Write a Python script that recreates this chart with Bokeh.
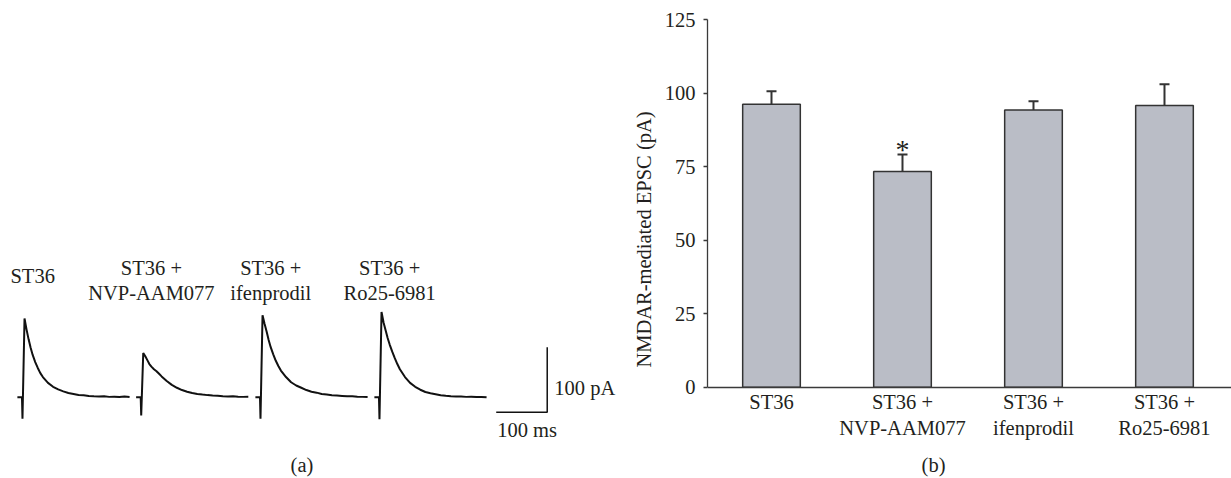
from bokeh.plotting import figure
from bokeh.layouts import row
from bokeh.models import Range1d, FixedTicker, Whisker, TeeHead, ColumnDataSource
from bokeh.core.properties import value
from bokeh.embed import file_html
from bokeh.resources import INLINE

# ---------------- data ----------------
# (b) bar chart
conditions = ["ST36", "ST36 +\nNVP-AAM077", "ST36 +\nifenprodil", "ST36 +\nRo25-6981"]
epsc_mean = [96.3, 73.4, 94.3, 95.8]
epsc_sem = [4.4, 5.8, 3.0, 7.3]
significance = ["", "*", "", ""]
y_ticks = [0, 25, 50, 75, 100, 125]

# (a) example traces (time after stimulus in ms, current in pA, inward shown upward)
trace_time_ms = [-10, -1, 0, 4, 8, 12, 16, 20, 25, 30, 35, 40, 50, 60, 70, 80, 90,
                 100, 110, 120, 130, 140, 150, 160, 170, 180, 190, 200, 210]
trace_st36 = [0, 0, -33, 121, 104, 89, 76, 65, 54, 45, 37, 31, 22, 16, 12, 9, 6.5,
              5, 3.5, 3, 2, 1.5, 1.2, 1.6, 0.5, 0.8, 0.3, 0.9, 0.2]
trace_nvp = [0, 0, -28, 68, 63, 57, 51, 47, 43, 40, 36, 32, 25, 19, 14.5, 11, 8.5,
             6.5, 5, 4, 3.2, 2.5, 2.4, 1.5, 1.2, 1.4, 0.8, 0.5, 0.6]
trace_ifen = [0, 0, -33, 126, 113, 101, 88, 77, 66, 56, 48, 41, 31, 23, 18, 14.5, 11,
              8.5, 7, 5, 4, 3, 2.5, 2, 1.5, 1.3, 0.8, 0.5, 0.2]
trace_ro = [0, 0, -34, 131, 115, 103, 91, 81, 70, 60, 51, 43, 31, 22, 16, 11.5, 8,
            6, 4.5, 3, 2.2, 1.5, 1.2, 1, 0.5, 0.7, 0.3, 0.4, 0]
traces = [trace_st36, trace_nvp, trace_ifen, trace_ro]
trace_labels = ["ST36", "ST36 +\nNVP-AAM077", "ST36 +\nifenprodil", "ST36 +\nRo25-6981"]
scale_bar_pa = 100
scale_bar_ms = 100

# ---------------- layout / style ----------------
FONT = value("Liberation Serif")
FS = "20.5px"
INK = "#231f20"
AXIS = "#3a3a3a"
BAR_FILL = "#babdc6"
H = 478

# panel (a): pixel scale taken from the scale bars
MS_PER_PX = 100 / 51.0
PA_PER_PX = 100 / 65.0
W1 = 620
BASE_Y = 396.7
onsets_ms = [43.1, 275.9, 509.8, 743.1]
label_y_pa = [187.0, 179.0, 179.0, 179.0]
bar_corner = (1072.0, -23.1)

p1 = figure(width=W1, height=H, output_backend="svg", toolbar_location=None,
            x_range=Range1d(0, W1 * MS_PER_PX),
            y_range=Range1d(-(H - BASE_Y) * PA_PER_PX, BASE_Y * PA_PER_PX),
            x_axis_type=None, y_axis_type=None,
            min_border_left=0, min_border_right=0, min_border_top=0, min_border_bottom=0)
p1.outline_line_color = None
p1.background_fill_color = "white"
p1.border_fill_color = "white"

for onset, tr, lab, ly in zip(onsets_ms, traces, trace_labels, label_y_pa):
    p1.line([onset + t for t in trace_time_ms], tr, line_color="#111111", line_width=2)
    p1.text(x=[onset + 20], y=[ly], text=[lab], text_font=FONT, text_font_size=FS,
            text_color=INK, text_align="center", text_baseline="middle",
            text_line_height=1.15)

cx, cy = bar_corner
p1.line([cx - scale_bar_ms, cx, cx], [cy, cy, cy + scale_bar_pa],
        line_color="#111111", line_width=1.5)
p1.text(x=[cx + 14], y=[cy + 38], text=["100 pA"], text_font=FONT, text_font_size=FS,
        text_color=INK, text_align="left", text_baseline="middle")
p1.text(x=[cx - scale_bar_ms + 2], y=[cy - 28], text=["100 ms"], text_font=FONT,
        text_font_size=FS, text_color=INK, text_align="left", text_baseline="middle")
p1.text(x=[301.5 * MS_PER_PX], y=[-(464 - BASE_Y) * PA_PER_PX], text=["(a)"],
        text_font=FONT, text_font_size=FS, text_color=INK,
        text_align="center", text_baseline="middle")

# ---------------- panel (b) ----------------
PX_PER_UNIT = 367.4 / 125.0
ZERO_Y = 386.7
idx = list(range(len(conditions)))
src = ColumnDataSource(dict(
    x=idx, mean=epsc_mean,
    upper=[m + s for m, s in zip(epsc_mean, epsc_sem)],
    sig=significance))

p2 = figure(width=1231 - W1, height=H, output_backend="svg", toolbar_location=None,
            x_range=Range1d(-0.4885, 3.5115),
            y_range=Range1d(-(H - ZERO_Y) / PX_PER_UNIT, ZERO_Y / PX_PER_UNIT),
            min_border_left=707 - W1, min_border_right=0,
            min_border_top=0, min_border_bottom=0)
p2.outline_line_color = None
p2.grid.visible = False
p2.background_fill_color = "white"
p2.border_fill_color = "white"

p2.vbar(x="x", top="mean", bottom=0, width=0.44, source=src,
        fill_color=BAR_FILL, line_color="#333333", line_width=1.5)
wh = Whisker(base="x", lower="mean", upper="upper", source=src,
             line_color="#333333", line_width=2,
             upper_head=TeeHead(size=10, line_color="#333333", line_width=2),
             lower_head=None)
wh.level = "overlay"
p2.add_layout(wh)
p2.text(x="x", y="upper", text="sig", source=src, text_font=FONT, text_font_size="28px",
        text_color=INK, text_align="center", text_baseline="alphabetic", y_offset=-5)
p2.text(x=[1.237], y=[-(464 - ZERO_Y) / PX_PER_UNIT], text=["(b)"], text_font=FONT,
        text_font_size=FS, text_color=INK, text_align="center", text_baseline="middle")

yax = p2.yaxis[0]
yax.ticker = FixedTicker(ticks=y_ticks)
yax.bounds = (0, 125)
yax.minor_tick_line_color = None
yax.major_tick_out = 4
yax.major_tick_in = 0
yax.major_label_standoff = 8
yax.axis_line_color = AXIS
yax.axis_line_width = 1.3
yax.major_tick_line_color = AXIS
yax.major_tick_line_width = 1.3
yax.major_label_text_font = "Liberation Serif"
yax.major_label_text_font_size = FS
yax.major_label_text_color = INK
yax.axis_label = "NMDAR-mediated EPSC (pA)"
yax.axis_label_text_font = "Liberation Serif"
yax.axis_label_text_font_size = FS
yax.axis_label_text_font_style = "normal"
yax.axis_label_text_color = INK
yax.axis_label_standoff = 7

xax = p2.xaxis[0]
xax.fixed_location = 0
xax.ticker = FixedTicker(ticks=idx)
xax.major_label_overrides = {i: c for i, c in zip(idx, conditions)}
xax.minor_tick_line_color = None
xax.major_tick_out = 0
xax.major_tick_in = 0
xax.major_label_standoff = 4
xax.axis_line_color = AXIS
xax.axis_line_width = 1.3
xax.major_label_text_font = "Liberation Serif"
xax.major_label_text_font_size = FS
xax.major_label_text_color = INK
xax.major_label_text_line_height = 1.15

layout = row(p1, p2)
open("out.html", "w").write(file_html(layout, INLINE))
